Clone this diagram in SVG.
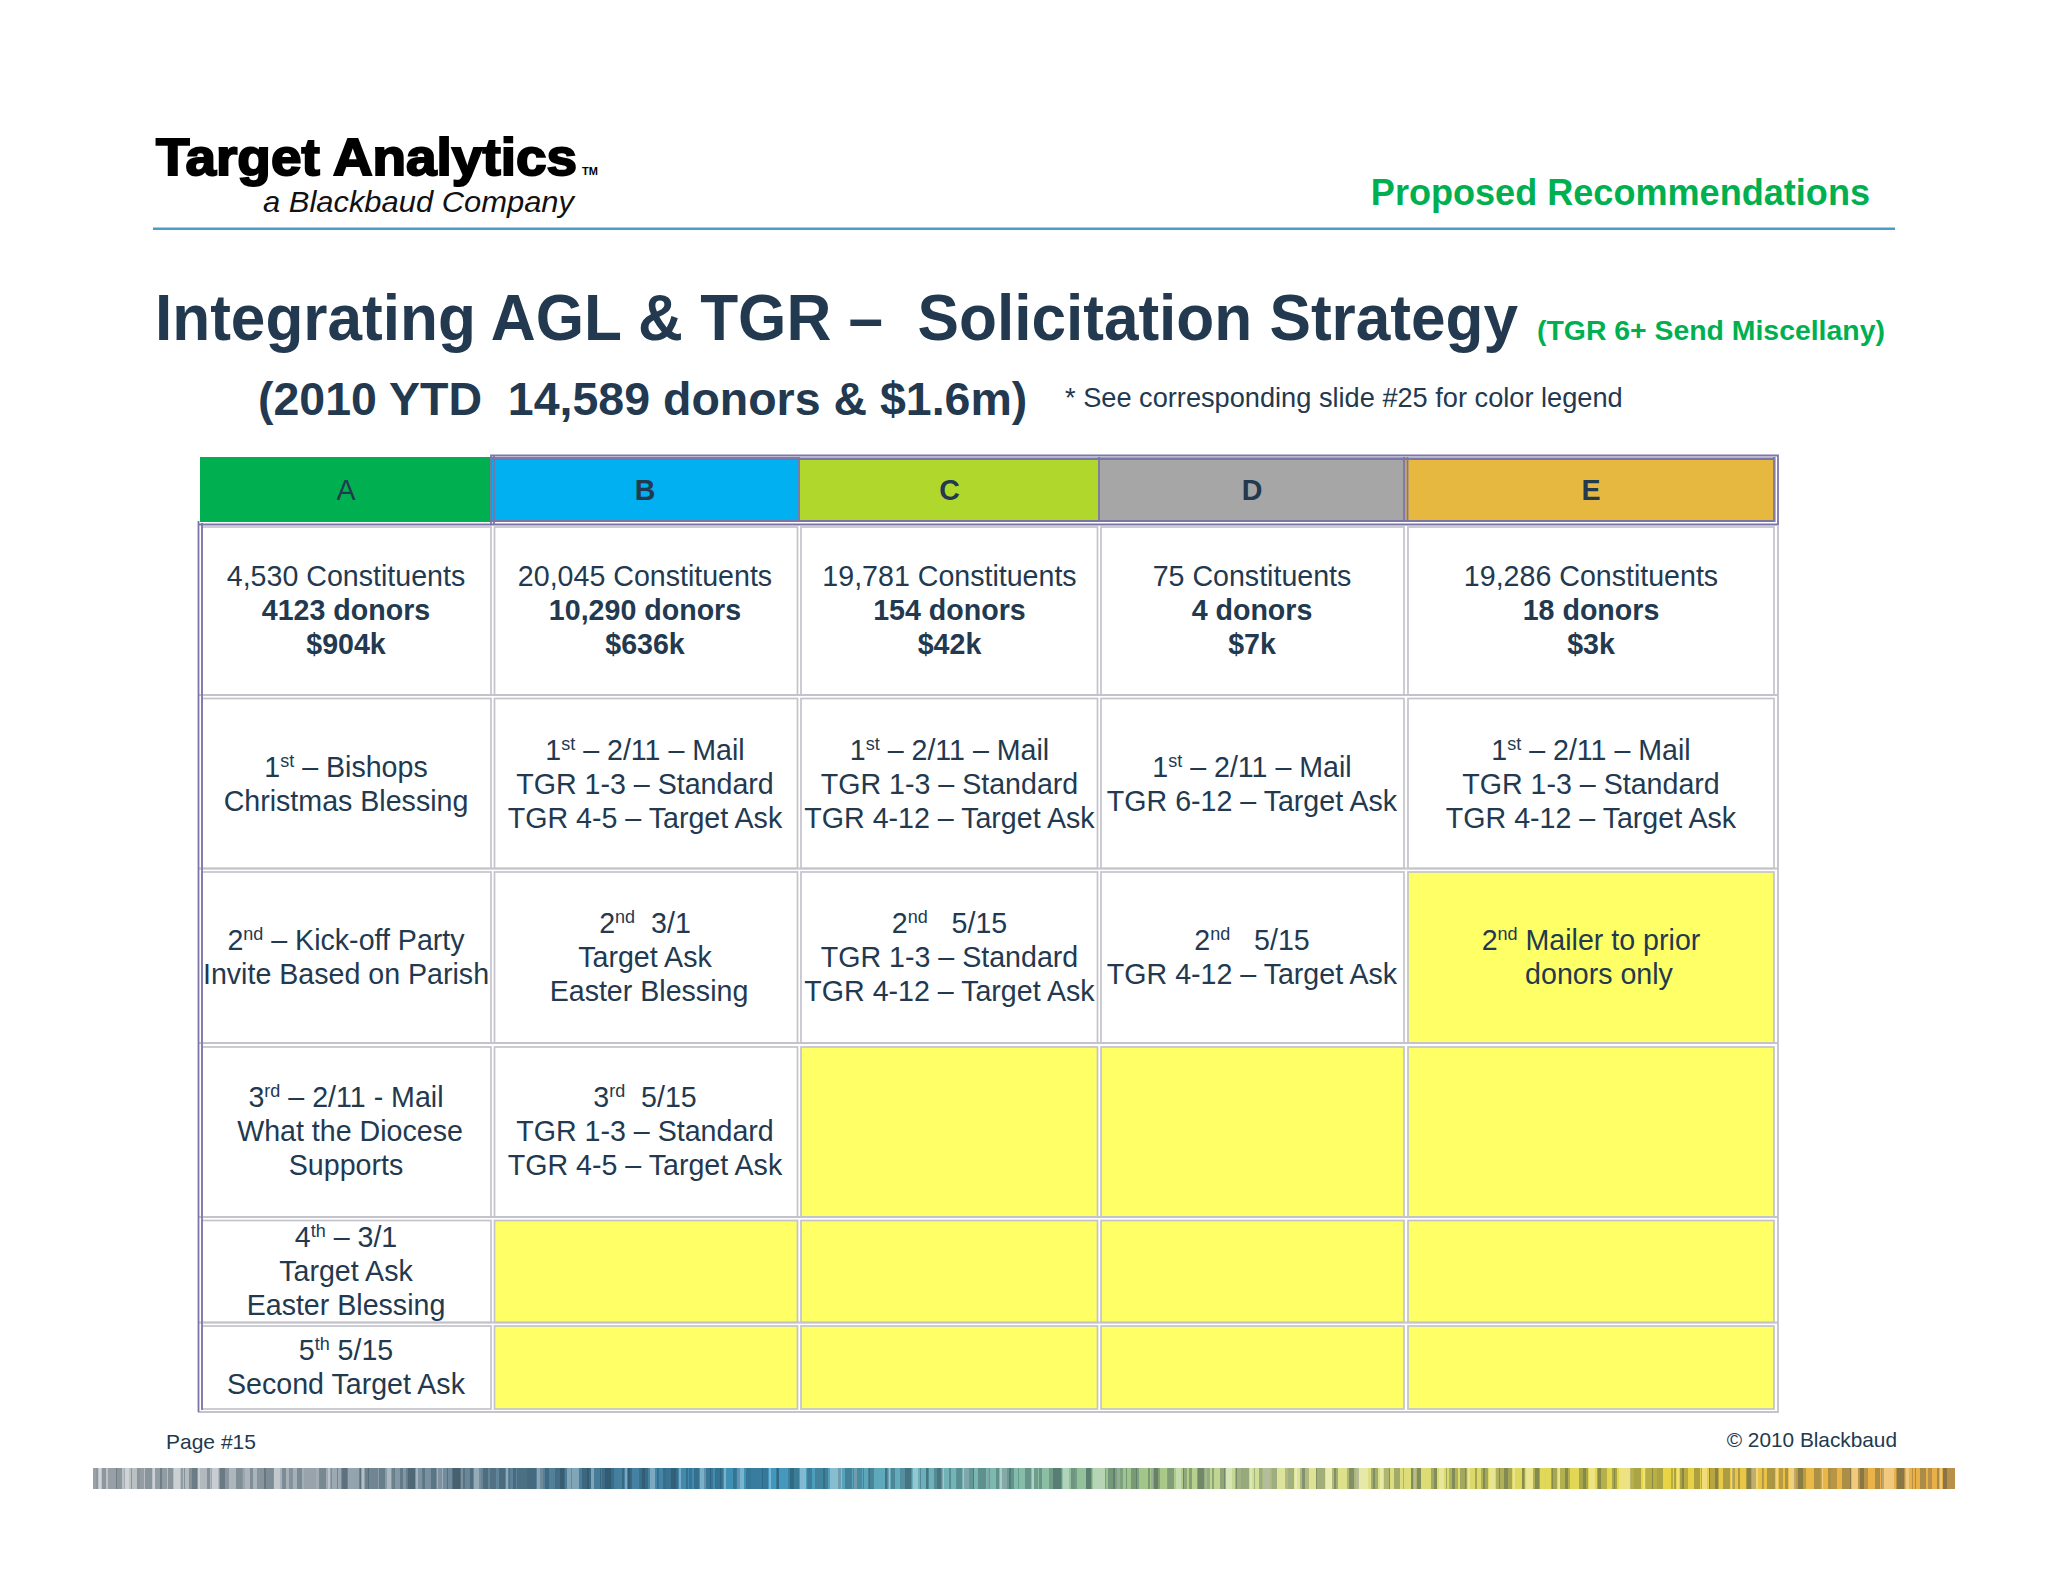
<svg xmlns="http://www.w3.org/2000/svg" width="2048" height="1582" viewBox="0 0 2048 1582">
<style>
text{font-family:"Liberation Sans",Arial,sans-serif;fill:#22394f}
.c{text-anchor:middle;font-size:28.6px}
.b{font-weight:bold}
.cell{fill:#fff;stroke:#c4c3cc;stroke-width:1.700}
.y{fill:#ffff66}
.o{fill:none;stroke:#7c76a8;stroke-width:1.800}
.l{fill:none;stroke:#c4c3cc;stroke-width:1.800}
.s{font-size:18px}
</style>
<defs>
<linearGradient id="bar" x1="0" x2="1" y1="0" y2="0">
<stop offset="0" stop-color="#c0c4c6"/><stop offset=".12" stop-color="#a2aeb6"/><stop offset=".2" stop-color="#6a8798"/><stop offset=".27" stop-color="#467c9a"/><stop offset=".36" stop-color="#3f95bd"/><stop offset=".44" stop-color="#68aebc"/><stop offset=".5" stop-color="#86bda8"/><stop offset=".57" stop-color="#a5c688"/><stop offset=".64" stop-color="#dde59a"/><stop offset=".74" stop-color="#dcd968"/><stop offset=".84" stop-color="#e8d644"/><stop offset=".93" stop-color="#eab646"/><stop offset="1" stop-color="#e8ae4a"/>
</linearGradient>
<pattern id="st" width="263" height="22" patternUnits="userSpaceOnUse" x="93" y="1467">
<path fill="#1c3442" opacity=".3" d="M3 0h2v22h-2zM9 0h4v22h-4zM23 0h6v22h-6zM38 0h1v22h-1zM44 0h3v22h-3zM52 0h7v22h-7zM67 0h2v22h-2zM75 0h5v22h-5zM91 0h1v22h-1zM96 0h8v22h-8zM114 0h3v22h-3zM127 0h5v22h-5zM143 0h6v22h-6zM157 0h3v22h-3zM171 0h9v22h-9zM189 0h4v22h-4zM204 0h5v22h-5zM226 0h7v22h-7zM244 0h1v22h-1zM249 0h6v22h-6z"/>
<path fill="#fff" opacity=".3" d="M6 0h2v22h-2zM31 0h5v22h-5zM60 0h2v22h-2zM81 0h6v22h-6zM105 0h2v22h-2zM118 0h7v22h-7zM150 0h2v22h-2zM181 0h6v22h-6zM211 0h12v22h-12zM235 0h3v22h-3z"/>
</pattern>
<pattern id="st2" width="149" height="22" patternUnits="userSpaceOnUse" x="93" y="1467">
<path fill="#1c3442" opacity=".24" d="M0 0h3v22h-3zM15 0h9v22h-9zM31 0h1v22h-1zM47 0h4v22h-4zM62 0h12v22h-12zM88 0h2v22h-2zM99 0h6v22h-6zM118 0h1v22h-1zM126 0h10v22h-10z"/>
</pattern>
<filter id="soft" x="0" y="0" width="1" height="1"><feGaussianBlur stdDeviation=".5 0"/></filter>
</defs>
<rect width="2048" height="1582" fill="#fff"/>
<g id="logo">
<text x="156" y="175" font-size="52" class="b" textLength="421" lengthAdjust="spacingAndGlyphs" style="fill:#000;stroke:#000;stroke-width:2">Target Analytics</text>
<text x="582" y="175" font-size="11" class="b" style="fill:#000">TM</text>
<text x="263" y="212" font-size="29" font-style="italic" textLength="311" lengthAdjust="spacingAndGlyphs" style="fill:#111">a Blackbaud Company</text>
</g>
<g id="header">
<text x="1870" y="205" text-anchor="end" font-size="36.100" class="b" style="fill:#00b050">Proposed Recommendations</text>
<rect x="153" y="227.500" width="1742" height="2.500" fill="#4d9cc8"/>
<text x="155" y="340" font-size="64" class="b" textLength="1363" lengthAdjust="spacingAndGlyphs" xml:space="preserve">Integrating AGL &amp; TGR –  Solicitation Strategy</text>
<text x="1537" y="340" font-size="28.400" class="b" style="fill:#00b050">(TGR 6+ Send Miscellany)</text>
<text x="258" y="415" font-size="46.500" class="b" xml:space="preserve">(2010 YTD  14,589 donors &amp; $1.6m)</text>
<text x="1065" y="407" font-size="27.200">* See corresponding slide #25 for color legend</text>
</g>
<g id="table">
<g id="head">
<rect x="200" y="457" width="292" height="65" fill="#00b050"/>
<rect x="492" y="457" width="307" height="65" fill="#00b0f0"/>
<rect x="799" y="457" width="300" height="65" fill="#b0d82c"/>
<rect x="1099" y="457" width="307" height="65" fill="#a6a6a6"/>
<rect x="1406" y="457" width="370" height="65" fill="#e6b840"/>
<path class="o" d="M491 455.500H1778V524.500H491zM491 459H1775M491 521H1775M494 455.500V524.500M799 457V522M1099 457V522M1404 457V522M1407.500 457V522M1774 457V522"/>
<text class="c" x="346" y="500">A</text><text class="c b" x="645" y="500">B</text><text class="c b" x="949.500" y="500">C</text><text class="c b" x="1252" y="500">D</text><text class="c b" x="1591" y="500">E</text>
</g>
<g id="cells">
<rect class="cell" x="202" y="527" width="289" height="168"/><rect class="cell" x="494.500" y="527" width="303" height="168"/><rect class="cell" x="801" y="527" width="296.500" height="168"/><rect class="cell" x="1101" y="527" width="303" height="168"/><rect class="cell" x="1408" y="527" width="366" height="168"/>
<rect class="cell" x="202" y="698.500" width="289" height="170"/><rect class="cell" x="494.500" y="698.500" width="303" height="170"/><rect class="cell" x="801" y="698.500" width="296.500" height="170"/><rect class="cell" x="1101" y="698.500" width="303" height="170"/><rect class="cell" x="1408" y="698.500" width="366" height="170"/>
<rect class="cell" x="202" y="872" width="289" height="171"/><rect class="cell" x="494.500" y="872" width="303" height="171"/><rect class="cell" x="801" y="872" width="296.500" height="171"/><rect class="cell" x="1101" y="872" width="303" height="171"/><rect class="cell y" x="1408" y="872" width="366" height="171"/>
<rect class="cell" x="202" y="1047" width="289" height="170"/><rect class="cell" x="494.500" y="1047" width="303" height="170"/><rect class="cell y" x="801" y="1047" width="296.500" height="170"/><rect class="cell y" x="1101" y="1047" width="303" height="170"/><rect class="cell y" x="1408" y="1047" width="366" height="170"/>
<rect class="cell" x="202" y="1220.500" width="289" height="102"/><rect class="cell y" x="494.500" y="1220.500" width="303" height="102"/><rect class="cell y" x="801" y="1220.500" width="296.500" height="102"/><rect class="cell y" x="1101" y="1220.500" width="303" height="102"/><rect class="cell y" x="1408" y="1220.500" width="366" height="102"/>
<rect class="cell" x="202" y="1326" width="289" height="83"/><rect class="cell y" x="494.500" y="1326" width="303" height="83"/><rect class="cell y" x="801" y="1326" width="296.500" height="83"/><rect class="cell y" x="1101" y="1326" width="303" height="83"/><rect class="cell y" x="1408" y="1326" width="366" height="83"/>
<path class="l" d="M198 1412H1778V525M198 695H1778M198 868.500H1778M198 1043H1778M198 1217H1778M198 1322.500H1778"/>
<path class="o" d="M198.500 521V1412M202 523V1410M198 524.500H491"/>
</g>
<g id="col-a">
<text class="c" x="346" y="586">4,530 Constituents</text><text class="c b" x="346" y="620">4123 donors</text><text class="c b" x="346" y="654">$904k</text>
<text class="c" x="346" y="777">1<tspan class="s" dy="-10">st</tspan><tspan dy="10"> – Bishops</tspan></text><text class="c" x="346" y="811">Christmas Blessing</text>
<text class="c" x="346" y="950">2<tspan class="s" dy="-10">nd</tspan><tspan dy="10"> – Kick-off Party</tspan></text><text class="c" x="346" y="984">Invite Based on Parish</text>
<text class="c" x="346" y="1107">3<tspan class="s" dy="-10">rd</tspan><tspan dy="10"> – 2/11 - Mail</tspan></text><text class="c" x="350" y="1141">What the Diocese</text><text class="c" x="346" y="1175">Supports</text>
<text class="c" x="346" y="1247">4<tspan class="s" dy="-10">th</tspan><tspan dy="10"> – 3/1</tspan></text><text class="c" x="346" y="1281">Target Ask</text><text class="c" x="346" y="1315">Easter Blessing</text>
<text class="c" x="346" y="1360">5<tspan class="s" dy="-10">th</tspan><tspan dy="10"> 5/15</tspan></text><text class="c" x="346" y="1394">Second Target Ask</text>
</g>
<g id="col-b">
<text class="c" x="645" y="586">20,045 Constituents</text><text class="c b" x="645" y="620">10,290 donors</text><text class="c b" x="645" y="654">$636k</text>
<text class="c" x="645" y="760">1<tspan class="s" dy="-10">st</tspan><tspan dy="10"> – 2/11 – Mail</tspan></text><text class="c" x="645" y="794">TGR 1-3 – Standard</text><text class="c" x="645" y="828">TGR 4-5 – Target Ask</text>
<text class="c" x="645" y="933" xml:space="preserve">2<tspan class="s" dy="-10">nd</tspan><tspan dy="10">  3/1</tspan></text><text class="c" x="645" y="967">Target Ask</text><text class="c" x="649" y="1001">Easter Blessing</text>
<text class="c" x="645" y="1107" xml:space="preserve">3<tspan class="s" dy="-10">rd</tspan><tspan dy="10">  5/15</tspan></text><text class="c" x="645" y="1141">TGR 1-3 – Standard</text><text class="c" x="645" y="1175">TGR 4-5 – Target Ask</text>
</g>
<g id="col-c">
<text class="c" x="949.500" y="586">19,781 Constituents</text><text class="c b" x="949.500" y="620">154 donors</text><text class="c b" x="949.500" y="654">$42k</text>
<text class="c" x="949.500" y="760">1<tspan class="s" dy="-10">st</tspan><tspan dy="10"> – 2/11 – Mail</tspan></text><text class="c" x="949.500" y="794">TGR 1-3 – Standard</text><text class="c" x="949.500" y="828">TGR 4-12 – Target Ask</text>
<text class="c" x="949.500" y="933" xml:space="preserve">2<tspan class="s" dy="-10">nd</tspan><tspan dy="10">   5/15</tspan></text><text class="c" x="949.500" y="967">TGR 1-3 – Standard</text><text class="c" x="949.500" y="1001">TGR 4-12 – Target Ask</text>
</g>
<g id="col-d">
<text class="c" x="1252" y="586">75 Constituents</text><text class="c b" x="1252" y="620">4 donors</text><text class="c b" x="1252" y="654">$7k</text>
<text class="c" x="1252" y="777">1<tspan class="s" dy="-10">st</tspan><tspan dy="10"> – 2/11 – Mail</tspan></text><text class="c" x="1252" y="811">TGR 6-12 – Target Ask</text>
<text class="c" x="1252" y="950" xml:space="preserve">2<tspan class="s" dy="-10">nd</tspan><tspan dy="10">   5/15</tspan></text><text class="c" x="1252" y="984">TGR 4-12 – Target Ask</text>
</g>
<g id="col-e">
<text class="c" x="1591" y="586">19,286 Constituents</text><text class="c b" x="1591" y="620">18 donors</text><text class="c b" x="1591" y="654">$3k</text>
<text class="c" x="1591" y="760">1<tspan class="s" dy="-10">st</tspan><tspan dy="10"> – 2/11 – Mail</tspan></text><text class="c" x="1591" y="794">TGR 1-3 – Standard</text><text class="c" x="1591" y="828">TGR 4-12 – Target Ask</text>
<text class="c" x="1591" y="950">2<tspan class="s" dy="-10">nd</tspan><tspan dy="10"> Mailer to prior</tspan></text><text class="c" x="1599" y="984">donors only</text>
</g>
</g>
<g id="footer">
<text x="166" y="1449" font-size="21">Page #15</text>
<text x="1897" y="1447" font-size="20.800" text-anchor="end">© 2010 Blackbaud</text>
<g filter="url(#soft)">
<rect x="93" y="1468" width="1862" height="21" fill="url(#bar)"/>
<rect x="93" y="1468" width="1862" height="21" fill="url(#st)"/>
<rect x="93" y="1468" width="1862" height="21" fill="url(#st2)"/>
</g>
</g>
</svg>
